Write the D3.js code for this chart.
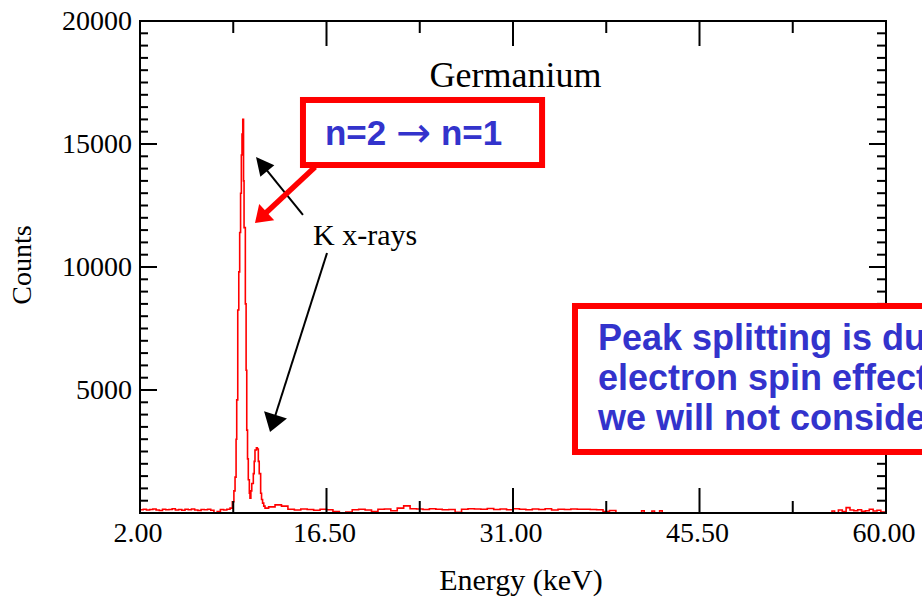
<!DOCTYPE html>
<html>
<head>
<meta charset="utf-8">
<script src="https://cdn.jsdelivr.net/npm/d3@7/dist/d3.min.js"></script>
<style>
  html, body { margin: 0; padding: 0; background: #fff; overflow: hidden; }
  svg { display: block; overflow: hidden; }
</style>
</head>
<body>
<script>
// Germanium x-ray spectrum: energy bins (keV) and counts per bin
const energyKeV = [
  2.0, 2.25, 2.5, 2.75, 3.0, 3.25, 3.5, 3.75, 4.0, 4.25, 4.5, 4.75, 5.0, 5.25, 5.5, 5.75,
  6.0, 6.25, 6.5, 6.75, 7.0, 7.25, 7.5, 7.75, 8.0, 8.25, 8.5, 8.75, 9.0,
  9.18, 9.3, 9.39, 9.47, 9.52, 9.6, 9.68, 9.75, 9.82, 9.88, 9.93, 9.99, 10.05, 10.09,
  10.19, 10.25, 10.3, 10.36, 10.42, 10.5, 10.55, 10.62, 10.69, 10.81, 10.88, 10.94,
  11.05, 11.12, 11.2, 11.27, 11.38, 11.45, 11.53, 11.62, 11.72,
  12.0, 12.5, 13.0, 13.5, 14.0, 14.5, 15.0, 15.5, 16.0, 16.5, 17.0, 17.5, 18.0, 18.5,
  19.0, 19.5, 20.0, 20.5, 21.0, 21.5, 22.0, 22.5, 23.0, 23.5, 24.0, 24.5, 25.0, 25.5,
  26.0, 26.5, 27.0, 27.5, 28.0, 28.5, 29.0, 29.5, 30.0, 30.5, 31.0, 31.5, 32.0, 32.5,
  33.0, 33.5, 34.0, 34.5, 35.0, 35.5, 36.0, 36.5, 37.0, 37.5, 38.0, 38.5, 39.0,
  39.5, 40.5, 41.0, 41.2, 41.8, 42.0, 42.4, 42.6, 50.0, 55.5, 55.8, 56.0, 56.3, 56.6,
  56.9, 57.2, 57.5, 57.8, 58.1, 58.4, 58.7, 59.0, 59.3, 59.6, 59.9, 60.0
];
const counts = [
  130, 150, 120, 140, 160, 120, 100, 150, 130, 140, 170, 120, 140, 110, 150, 130,
  160, 120, 100, 140, 130, 150, 110, 0, 60, 140, 120, 150, 200,
  460, 900, 1460, 3000, 4600, 8250, 9800, 11400, 13000, 14550, 15400, 16000, 13500, 11600,
  8500, 5800, 3370, 2200, 1350, 800, 600, 900, 1200, 1600, 2100, 2560,
  2650, 2600, 2100, 1600, 800, 550, 400, 280, 200,
  250, 330, 280, 150, 120, 160, 140, 110, 150, 130, 60, 0, 40, 130,
  150, 120, 60, 150, 160, 90, 200, 290, 170, 160, 140, 170, 150, 130,
  140, 30, 150, 170, 160, 150, 180, 140, 160, 130, 170, 150, 130, 160,
  140, 170, 120, 150, 140, 160, 150, 150, 140, 130, 60, 100, 0,
  0, 0, 90, 0, 80, 0, 90, 0, 0, 0, 80, 0, 120, 60,
  220, 120, 90, 130, 70, 90, 150, 80, 110, 40, 0, 0
];

// Axis ticks and labels
const xMajorTicks = [2.0, 16.5, 31.0, 45.5, 60.0];
const xMinorTicks = [9.25, 23.75, 38.25, 52.75];
const xTickLabels = ["2.00", "16.50", "31.00", "45.50", "60.00"];
const yMajorTicks = [5000, 10000, 15000, 20000];
const yTickLabels = ["5000", "10000", "15000", "20000"];
const yMinorStep = 500;

const titleText = "Germanium";
const xTitle = "Energy (keV)";
const yTitle = "Counts";
const peakLabel = "K x-rays";
const transitionText = ["n=2 ", "\u2192", " n=1"];
const noteLines = ["Peak splitting is due to", "electron spin effects that", "we will not consider."];

const W = 922, H = 598;
const plot = { left: 140, right: 886, top: 21, bottom: 513 };

const svg = d3.select("body").append("svg")
  .attr("width", W).attr("height", H)
  .attr("viewBox", `0 0 ${W} ${H}`);

const x = d3.scaleLinear().domain([2, 60]).range([plot.left, plot.right]);
const y = d3.scaleLinear().domain([0, 20000]).range([plot.bottom, plot.top]);

const serif = "'Liberation Serif', 'Times New Roman', serif";
const sans = "'Liberation Sans', Arial, sans-serif";
const blue = "#3333cc";
const red = "#ff0000";

// Spectrum trace
const pts = energyKeV.map((e, i) => [e, counts[i]]);
svg.append("path")
  .datum(pts)
  .attr("fill", "none")
  .attr("stroke", red)
  .attr("stroke-width", 1.6)
  .attr("stroke-linejoin", "miter")
  .attr("d", d3.line().x(d => x(d[0])).y(d => y(d[1])).curve(d3.curveStepAfter));

// Frame and ticks
const axisG = svg.append("g").attr("stroke", "#000").attr("stroke-width", 2).attr("fill", "none");
axisG.append("rect")
  .attr("x", plot.left).attr("y", plot.top)
  .attr("width", plot.right - plot.left).attr("height", plot.bottom - plot.top);

const yMinor = d3.range(yMinorStep, 20000, yMinorStep).filter(v => v % 5000 !== 0);
function tickSet(vals, len, side) {
  vals.forEach(v => {
    if (side === "bottom") axisG.append("line").attr("x1", x(v)).attr("x2", x(v)).attr("y1", plot.bottom).attr("y2", plot.bottom - len);
    if (side === "top") axisG.append("line").attr("x1", x(v)).attr("x2", x(v)).attr("y1", plot.top).attr("y2", plot.top + len);
    if (side === "left") axisG.append("line").attr("y1", y(v)).attr("y2", y(v)).attr("x1", plot.left).attr("x2", plot.left + len);
    if (side === "right") axisG.append("line").attr("y1", y(v)).attr("y2", y(v)).attr("x1", plot.right).attr("x2", plot.right - len);
  });
}
tickSet(xMajorTicks, 25, "bottom");
tickSet(xMinorTicks, 12, "bottom");
tickSet(xMajorTicks, 25, "top");
tickSet(xMinorTicks, 12, "top");
tickSet(yMajorTicks, 17, "left");
tickSet(yMinor, 8, "left");
tickSet(yMajorTicks, 17, "right");
tickSet(yMinor, 9, "right");

// Tick labels
svg.append("g").selectAll("text").data(xMajorTicks).join("text")
  .attr("x", d => x(d) - 2).attr("y", 542)
  .attr("text-anchor", "middle")
  .style("font-family", serif).style("font-size", "28px").attr("fill", "#000")
  .text((d, i) => xTickLabels[i]);

svg.append("g").selectAll("text").data(yMajorTicks).join("text")
  .attr("x", 132).attr("y", d => y(d) + 9)
  .attr("text-anchor", "end")
  .style("font-family", serif).style("font-size", "28px").attr("fill", "#000")
  .text((d, i) => yTickLabels[i]);

// Axis titles
svg.append("text")
  .attr("x", 521).attr("y", 590)
  .attr("text-anchor", "middle")
  .style("font-family", serif).style("font-size", "30px")
  .text(xTitle);

svg.append("text")
  .attr("transform", "translate(31,265) rotate(-90)")
  .attr("text-anchor", "middle")
  .style("font-family", serif).style("font-size", "28px")
  .text(yTitle);

// Plot title
svg.append("text")
  .attr("x", x(31.2)).attr("y", y(17300))
  .attr("text-anchor", "middle")
  .style("font-family", serif).style("font-size", "36px")
  .text(titleText);

// Arrow helper: shaft plus filled triangular head
function arrow(from, to, color, width, headLen, headW) {
  const x1 = x(from[0]), y1 = y(from[1]), x2 = x(to[0]), y2 = y(to[1]);
  const dx = x2 - x1, dy = y2 - y1, L = Math.hypot(dx, dy);
  const ux = dx / L, uy = dy / L;
  const bx = x2 - ux * headLen, by = y2 - uy * headLen;
  svg.append("line")
    .attr("x1", x1).attr("y1", y1).attr("x2", bx + ux * 2).attr("y2", by + uy * 2)
    .attr("stroke", color).attr("stroke-width", width);
  svg.append("path")
    .attr("d", `M${x2},${y2}L${bx - uy * headW / 2},${by + ux * headW / 2}L${bx + uy * headW / 2},${by - ux * headW / 2}Z`)
    .attr("fill", color);
}

// Peak label with pointers to both K lines
svg.append("text")
  .attr("x", x(15.45)).attr("y", y(10894))
  .style("font-family", serif).style("font-size", "30px")
  .text(peakLabel);
arrow([14.67, 12114], [11.02, 14472], "#000", 2, 18, 18);
arrow([16.54, 10569], [12.11, 3293], "#000", 2, 18, 24);

// Transition callout
const b1 = { e0: 14.67, e1: 33.26, c0: 14146, c1: 16789 };
svg.append("rect")
  .attr("x", x(b1.e0)).attr("y", y(b1.c1))
  .attr("width", x(b1.e1) - x(b1.e0)).attr("height", y(b1.c0) - y(b1.c1))
  .attr("fill", "#fff").attr("stroke", red).attr("stroke-width", 6);
const t1 = svg.append("text")
  .attr("x", x(14.67) + 22).attr("y", y(b1.c1) + 45)
  .style("font-family", sans).style("font-size", "35px").attr("fill", blue);
t1.append("tspan").style("font-weight", "bold").text(transitionText[0]);
t1.append("tspan").style("font-weight", "normal")
  .style("font-family", "'DejaVu Sans', sans-serif").style("font-size", "42px")
  .attr("dy", 2).text(transitionText[1]);
t1.append("tspan").style("font-weight", "bold").attr("dy", -2).text(transitionText[2]);
arrow([15.61, 14065], [10.94, 11789], red, 5.5, 16, 22);

// Note about the doublet
const b2 = { e0: 35.82, c0: 2480, c1: 8415 };
svg.append("rect")
  .attr("x", x(b2.e0)).attr("y", y(b2.c1))
  .attr("width", 420).attr("height", y(b2.c0) - y(b2.c1))
  .attr("fill", "#fff").attr("stroke", red).attr("stroke-width", 6);
svg.append("g").selectAll("text").data(noteLines).join("text")
  .attr("x", x(b2.e0) + 23).attr("y", (d, i) => y(b2.c1) + 44 + i * 40)
  .style("font-family", sans).style("font-size", "36px").style("font-weight", "bold")
  .attr("fill", blue)
  .text(d => d);
</script>
</body>
</html>
